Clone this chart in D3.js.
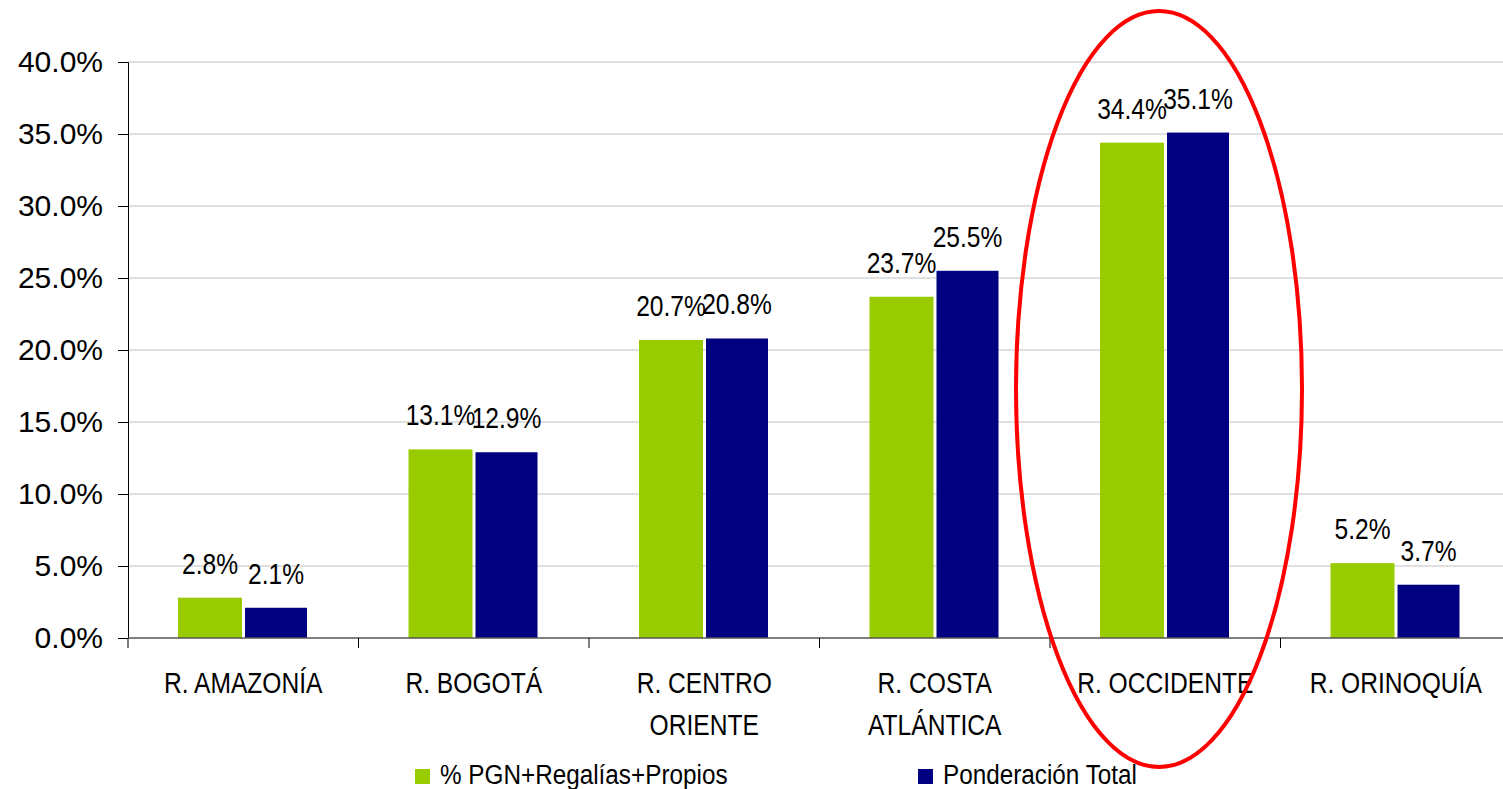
<!DOCTYPE html>
<html><head><meta charset="utf-8">
<script src="https://cdn.jsdelivr.net/npm/d3@7"></script>
<style>body{margin:0;background:#fff}svg{display:block}</style>
</head><body>
<svg id="c" width="1503" height="789"></svg>
<script>
const categories = [["R. AMAZONÍA"],["R. BOGOTÁ"],["R. CENTRO","ORIENTE"],["R. COSTA","ATLÁNTICA"],["R. OCCIDENTE"],["R. ORINOQUÍA"]];
const seriesNames = ["% PGN+Regalías+Propios","Ponderación Total"];
const pgn = [2.8, 13.1, 20.7, 23.7, 34.4, 5.2];
const ponderacion = [2.1, 12.9, 20.8, 25.5, 35.1, 3.7];
const yTicks = [0,5,10,15,20,25,30,35,40];
const colors = ["#99cc00","#000080"];

(function(){
const svg = d3.select("#c");
const font = "'Liberation Sans',Arial,sans-serif";
const sx = 0.82;
const mLeft = 128, mRight = 1511, mTop = 62, mBottom = 638;
const x = d3.scaleBand().domain(d3.range(categories.length)).range([mLeft, mRight]);
const y = d3.scaleLinear().domain([0,40]).range([mBottom, mTop]);

svg.append("g").selectAll("line").data(yTicks.filter(d=>d>0)).join("line")
  .attr("x1", mLeft).attr("x2", 1503).attr("y1", d=>y(d)).attr("y2", d=>y(d))
  .attr("stroke", "#c0c0c0").attr("stroke-width", 1);

const yAxis = d3.axisLeft(y).tickValues(yTicks).tickSize(10).tickPadding(15).tickFormat(d=>d.toFixed(1)+"%");
const ya = svg.append("g").attr("transform", `translate(${mLeft},0)`).call(yAxis);
ya.select(".domain").attr("stroke","#000");
ya.selectAll(".tick line").attr("stroke","#000");
ya.selectAll("text").attr("font-family",font).attr("font-size",30).attr("fill","#000");

const series = [pgn, ponderacion];
const barW = [64, 62];
const off = [50, 117];
series.forEach((s, si) => {
  svg.append("g").selectAll("rect").data(s).join("rect")
    .attr("x", (d,i)=>x(i)+off[si]).attr("width", barW[si])
    .attr("y", d=>y(d)).attr("height", d=>mBottom - y(d))
    .attr("fill", colors[si]);
  svg.append("g").selectAll("g").data(s).join("g")
    .attr("transform", (d,i)=>`translate(${x(i)+off[si]+barW[si]/2},${y(d)-24}) scale(${sx},1)`)
    .append("text")
    .attr("text-anchor","middle").attr("font-family",font).attr("font-size",30).attr("fill","#000")
    .text(d=>d.toFixed(1)+"%");
});

svg.append("line").attr("x1",mLeft).attr("x2",1503).attr("y1",mBottom).attr("y2",mBottom).attr("stroke","#555").attr("stroke-width",1.5);
svg.append("g").selectAll("line").data(d3.range(categories.length+1)).join("line")
  .attr("x1", i=>mLeft + i*x.bandwidth()).attr("x2", i=>mLeft + i*x.bandwidth())
  .attr("y1", mBottom).attr("y2", mBottom+10).attr("stroke","#000");

const cl = svg.append("g").selectAll("g").data(categories).join("g")
  .attr("transform",(d,i)=>`translate(${x(i)+x.bandwidth()/2},693) scale(${sx},1)`)
  .append("text")
  .attr("text-anchor","middle").attr("font-family",font).attr("font-size",30).attr("fill","#000");
cl.selectAll("tspan").data(d=>d).join("tspan")
  .attr("x", 0).attr("dy",(d,i)=>i?42:0).text(d=>d);

const lx = [415, 918];
seriesNames.forEach((n,i)=>{
  svg.append("rect").attr("x",lx[i]).attr("y",769).attr("width",15).attr("height",15).attr("fill",colors[i]);
  svg.append("g").attr("transform",`translate(${lx[i]+25},784) scale(0.9,1)`)
    .append("text").attr("font-family",font).attr("font-size",27).attr("fill","#000").text(n);
});

svg.append("ellipse").attr("cx",1159).attr("cy",389).attr("rx",143).attr("ry",378)
  .attr("fill","none").attr("stroke","#ff0000").attr("stroke-width",4);
})();
</script>
</body></html>
